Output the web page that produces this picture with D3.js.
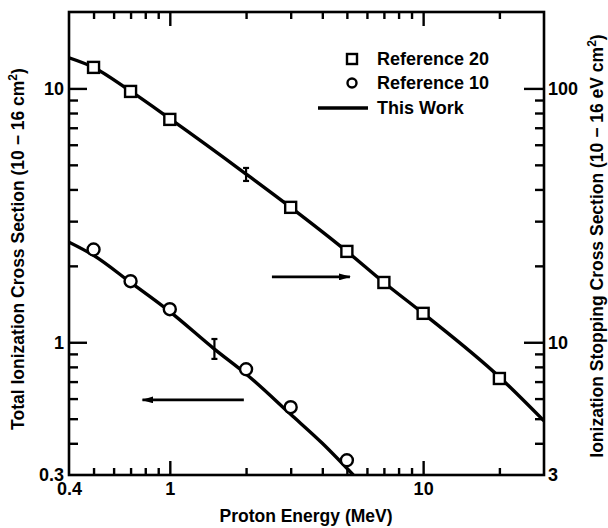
<!DOCTYPE html>
<html><head><meta charset="utf-8">
<script src="https://cdn.jsdelivr.net/npm/d3@7"></script>
<style>
body{margin:0;background:#fff;}
svg{display:block;font-family:"Liberation Sans",Arial,Helvetica,sans-serif;}
</style></head>
<body><svg id="c" width="608" height="528"></svg>
<script>
// ---- data ----
const ref20Energy = [0.5, 0.7, 1, 3, 5, 7, 10, 20];            // MeV
const ref20Stopping = [121, 97.3, 75.5, 34, 22.8, 17.2, 13, 7.2]; // 1e-16 eV cm2 (right axis)
const ref10Energy = [0.5, 0.7, 1, 2, 3, 5];
const ref10Cross = [2.32, 1.74, 1.35, 0.783, 0.555, 0.343];      // 1e-16 cm2 (left axis)
const workStopEnergy = [0.4, 0.5, 0.7, 1, 2, 3, 5, 7, 10, 20, 30];
const workStopValue = [132, 121, 97.5, 76, 46, 34, 22.8, 17.2, 13, 7.3, 4.9];
const workCrossEnergy = [0.4, 0.5, 0.7, 1, 1.5, 2, 3, 4, 5.3];
const workCrossValue = [2.48, 2.2, 1.72, 1.32, 0.94, 0.75, 0.52, 0.40, 0.3];
const errStop = {e: 2, lo: 43.2, hi: 48.6};
const errCross = {e: 1.5, lo: 0.86, hi: 1.03};
const xMajor = [1, 10], xMinor = [0.5,0.6,0.7,0.8,0.9,2,3,4,5,6,7,8,9,20];
const xLabels = [0.4, 1, 10];
const yLMajor = [1, 10], yLMinor = [0.4,0.5,0.6,0.7,0.8,0.9,2,3,4,5,6,7,8,9];
const yLLabels = [0.3, 1, 10];
const yRMajor = [10, 100], yRMinor = [4,5,6,7,8,9,20,30,40,50,60,70,80,90];
const yRLabels = [3, 10, 100];
const legendItems = ["Reference 20", "Reference 10", "This Work"];

// ---- layout ----
const L = 69, R = 544, T = 12, B = 475;
const svg = d3.select("#c");
const x = d3.scaleLog().domain([0.4, 30]).range([L, R]);
const yL = d3.scaleLog().domain([0.3, 20]).range([B, T]);
const yR = d3.scaleLog().domain([3, 200]).range([B, T]);
const FONT = 18, TFONT = 17.5;

function styleAxis(g){ g.select(".domain").remove(); g.selectAll("line").attr("stroke","#000").attr("stroke-width",2.4); }
function tickAxis(axisFn, scale, vals, size, tx, ty){
  svg.append("g").attr("transform",`translate(${tx},${ty})`)
    .call(axisFn(scale).tickValues(vals).tickSize(size).tickFormat("")).call(styleAxis);
}
tickAxis(d3.axisBottom, x, xMinor, -7, 0, B);
tickAxis(d3.axisBottom, x, xMajor, -14, 0, B);
tickAxis(d3.axisTop, x, xMinor, -7, 0, T);
tickAxis(d3.axisTop, x, xMajor, -14, 0, T);
tickAxis(d3.axisLeft, yL, yLMinor, -9, L, 0);
tickAxis(d3.axisLeft, yL, yLMajor, -18, L, 0);
tickAxis(d3.axisRight, yR, yRMinor, -9, R, 0);
tickAxis(d3.axisRight, yR, yRMajor, -20, R, 0);

function labelAxis(axisFn, scale, vals, pad, tx, ty, fmt){
  const g = svg.append("g").attr("transform",`translate(${tx},${ty})`)
    .call(axisFn(scale).tickValues(vals).tickSize(0).tickPadding(pad).tickFormat(fmt));
  g.select(".domain").remove();
  g.selectAll("text").attr("font-size",FONT).attr("font-weight","bold").attr("font-family","Liberation Sans, Arial, sans-serif").attr("fill","#000");
  return g;
}
labelAxis(d3.axisBottom, x, xLabels, 7, 0, B, d => String(d));
labelAxis(d3.axisLeft, yL, yLLabels, 5, L, 0, d => String(d));
labelAxis(d3.axisRight, yR, yRLabels, 4, R, 0, d => String(d));

svg.append("rect").attr("x",L).attr("y",T).attr("width",R-L).attr("height",B-T)
  .attr("fill","none").attr("stroke","#000").attr("stroke-width",2.6);

svg.append("clipPath").attr("id","plot").append("rect").attr("x",L).attr("y",T).attr("width",R-L).attr("height",B-T);

const lineS = d3.line().x(d=>x(d[0])).y(d=>yR(d[1])).curve(d3.curveMonotoneX);
const lineC = d3.line().x(d=>x(d[0])).y(d=>yL(d[1])).curve(d3.curveMonotoneX);
svg.append("path").attr("clip-path","url(#plot)").attr("d", lineS(d3.zip(workStopEnergy, workStopValue)))
  .attr("fill","none").attr("stroke","#000").attr("stroke-width",3.4);
svg.append("path").attr("clip-path","url(#plot)").attr("d", lineC(d3.zip(workCrossEnergy, workCrossValue)))
  .attr("fill","none").attr("stroke","#000").attr("stroke-width",3.4);

function errBar(xv, y1, y2){
  const g = svg.append("g").attr("stroke","#000").attr("stroke-width",2.2);
  g.append("line").attr("x1",xv).attr("x2",xv).attr("y1",y1).attr("y2",y2);
  g.append("line").attr("x1",xv-3).attr("x2",xv+3).attr("y1",y1).attr("y2",y1);
  g.append("line").attr("x1",xv-3).attr("x2",xv+3).attr("y1",y2).attr("y2",y2);
}
errBar(x(errStop.e), yR(errStop.hi), yR(errStop.lo));
errBar(x(errCross.e), yL(errCross.hi), yL(errCross.lo));

const sq = 11;
svg.append("g").selectAll("rect").data(d3.zip(ref20Energy, ref20Stopping)).join("rect")
  .attr("x", d=>x(d[0])-sq/2).attr("y", d=>yR(d[1])-sq/2).attr("width",sq).attr("height",sq)
  .attr("fill","#fff").attr("stroke","#000").attr("stroke-width",2.4);
svg.append("g").selectAll("circle").data(d3.zip(ref10Energy, ref10Cross)).join("circle")
  .attr("cx", d=>x(d[0])).attr("cy", d=>yL(d[1])).attr("r",6)
  .attr("fill","#fff").attr("stroke","#000").attr("stroke-width",2.4);

const defs = svg.append("defs");
defs.append("marker").attr("id","ah").attr("viewBox","0 0 12 7").attr("refX",11).attr("refY",3.5)
  .attr("markerWidth",12).attr("markerHeight",7).attr("markerUnits","userSpaceOnUse").attr("orient","auto")
  .append("path").attr("d","M0,0 L12,3.5 L0,7 Z").attr("fill","#000");
function arrow(x1,x2,y){
  svg.append("line").attr("x1",x1).attr("x2",x2).attr("y1",y).attr("y2",y)
    .attr("stroke","#000").attr("stroke-width",2.6).attr("marker-end","url(#ah)");
}
arrow(x(2.53), x(5.14), yL(1.81));
arrow(x(1.96), x(0.78), yL(0.593));

const lg = svg.append("g").attr("font-size",FONT).attr("font-weight","bold");
const ly = [59, 83, 108];
lg.append("rect").attr("x",347).attr("y",ly[0]-5).attr("width",10).attr("height",10)
  .attr("fill","#fff").attr("stroke","#000").attr("stroke-width",2.4);
lg.append("circle").attr("cx",352).attr("cy",ly[1]).attr("r",4.5)
  .attr("fill","#fff").attr("stroke","#000").attr("stroke-width",2.4);
lg.append("line").attr("x1",318).attr("x2",368).attr("y1",ly[2]).attr("y2",ly[2])
  .attr("stroke","#000").attr("stroke-width",3.4);
lg.selectAll("text").data(legendItems).join("text")
  .attr("x",377).attr("y",(d,i)=>ly[i]).attr("dy","0.36em").text(d=>d);

svg.append("text").attr("x",306).attr("y",522).attr("text-anchor","middle")
  .attr("font-size",TFONT).attr("font-weight","bold").text("Proton Energy (MeV)");
const lt = svg.append("text").attr("transform","translate(24,249) rotate(-90)").attr("text-anchor","middle")
  .attr("font-size",TFONT).attr("font-weight","bold");
lt.append("tspan").text("Total Ionization Cross Section (10 − 16 cm");
lt.append("tspan").attr("font-size",12).attr("dy",-7).text("2");
lt.append("tspan").attr("dy",7).text(")");
const rt = svg.append("text").attr("transform","translate(603,246) rotate(-90)").attr("text-anchor","middle")
  .attr("font-size",TFONT).attr("font-weight","bold");
rt.append("tspan").text("Ionization Stopping Cross Section (10 − 16 eV cm");
rt.append("tspan").attr("font-size",12).attr("dy",-7).text("2");
rt.append("tspan").attr("dy",7).text(")");
</script></body></html>
